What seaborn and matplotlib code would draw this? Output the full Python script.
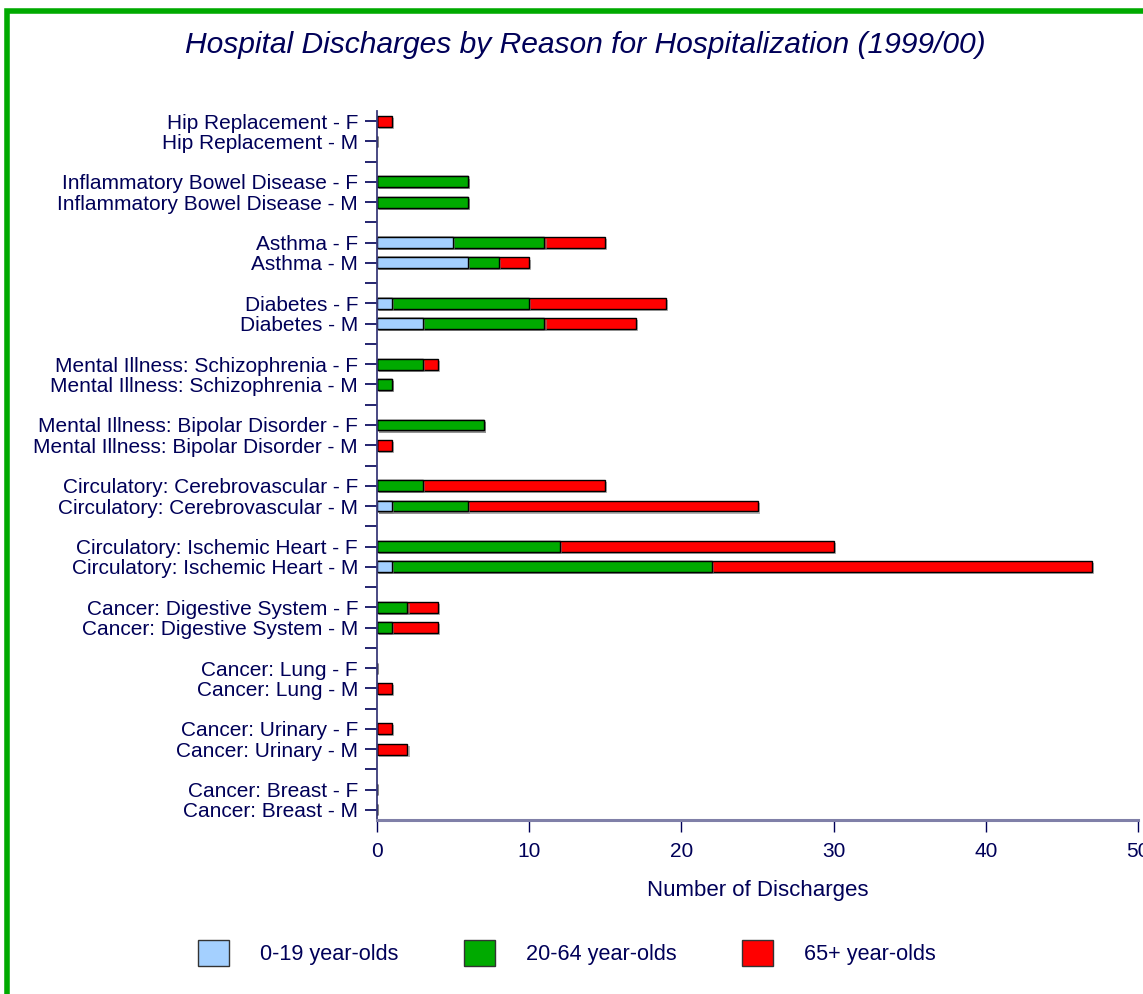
import matplotlib
matplotlib.use("Agg")
import matplotlib.pyplot as plt
import matplotlib.patheffects as pe
from matplotlib.patches import Patch, Rectangle
import seaborn as sns
import pandas as pd
import numpy as np

# ---- data ----
reasons = ["Hip Replacement", "Inflammatory Bowel Disease", "Asthma", "Diabetes",
           "Mental Illness: Schizophrenia", "Mental Illness: Bipolar Disorder",
           "Circulatory: Cerebrovascular", "Circulatory: Ischemic Heart",
           "Cancer: Digestive System", "Cancer: Lung", "Cancer: Urinary", "Cancer: Breast"]
sexes = ["F", "M"]
# values in order: reason F, reason M
age_0_19 = [0, 0, 0, 0, 5, 6, 1, 3, 0, 0, 0, 0, 0, 1, 0, 1, 0, 0, 0, 0, 0, 0, 0, 0]
age_20_64 = [0, 0, 6, 6, 6, 2, 9, 8, 3, 1, 7, 0, 3, 5, 12, 21, 2, 1, 0, 0, 0, 0, 0, 0]
age_65p = [1, 0, 0, 0, 4, 2, 9, 6, 1, 0, 0, 1, 12, 19, 18, 25, 2, 3, 0, 1, 1, 2, 0, 0]
series_names = ["0-19 year-olds", "20-64 year-olds", "65+ year-olds"]
series_colors = ["#A4D0FF", "#00AA00", "#FF0000"]

navy = "#000058"

labels = [f"{r} - {s}" for r in reasons for s in sexes]
df = pd.DataFrame({"label": labels, "a": age_0_19, "b": age_20_64, "c": age_65p})
df["cum1"] = df["a"]
df["cum2"] = df["a"] + df["b"]
df["cum3"] = df["a"] + df["b"] + df["c"]

# order with blank separator slots between groups
order = []
for i, r in enumerate(reasons):
    if i > 0:
        order.append(" " * i)
    order.append(f"{r} - F")
    order.append(f"{r} - M")

sns.set_theme(style="white")
plt.rcParams["font.family"] = ["Liberation Sans", "DejaVu Sans"]

fig = plt.figure(figsize=(11.43, 9.94), dpi=100)
ax = fig.add_axes([377/1143, 1-820/994, (1138-377)/1143, (820-111)/994])

shadow = [pe.SimplePatchShadow(offset=(1.5, -1.5), shadow_rgbFace="#808080", alpha=0.6), pe.Normal()]
for col, color in zip(["cum3", "cum2", "cum1"], series_colors[::-1]):
    sns.barplot(data=df, x=col, y="label", order=order, orient="h", color=color,
                saturation=1, width=0.54, edgecolor="black", linewidth=1.0, ax=ax)

for p in ax.patches:
    p.set_path_effects(shadow)

ax.set_xlim(0, 50)
ax.set_xticks([0, 10, 20, 30, 40, 50])
ax.set_yticks(range(len(order)))
ax.set_yticklabels([o if o.strip() else "" for o in order])
ax.tick_params(axis="y", length=8.6, width=1.2, color=navy, pad=5, labelsize=15, labelcolor=navy, left=True)
ax.tick_params(axis="x", length=8.6, width=1.0, color=navy, pad=7, labelsize=15, labelcolor=navy, bottom=True)
ax.set_ylabel("")
ax.set_xlabel("Number of Discharges", fontsize=16, color=navy, labelpad=14)
for s in ["top", "right"]:
    ax.spines[s].set_visible(False)
ax.spines["left"].set_color("#3A3A7A")
ax.spines["left"].set_linewidth(1.3)
ax.spines["bottom"].set_color("#8080A8")
ax.spines["bottom"].set_linewidth(2.2)
ax.grid(False)

fig.text(585/1143, 1-45/994, "Hospital Discharges by Reason for Hospitalization (1999/00)",
         ha="center", va="center", fontsize=21.6, style="italic", color=navy)

handles = [Patch(facecolor=c, edgecolor="#333333", linewidth=1.0) for c in series_colors]
leg = fig.legend(handles, series_names, loc="center", bbox_to_anchor=(567/1143, 1-953/994),
                 ncol=3, frameon=False, fontsize=15.6, handlelength=1.43, handleheight=1.43,
                 handletextpad=1.43, columnspacing=3.04)
for t in leg.get_texts():
    t.set_color(navy)

# green page border (right/bottom lie outside the image)
fig.patches.append(Rectangle((7/1143, -0.2), 1.5, 1.2 - 11/994, transform=fig.transFigure,
                             fill=False, edgecolor="#00AA00", linewidth=4.0, clip_on=False))

fig.savefig("out.png", dpi=100)
